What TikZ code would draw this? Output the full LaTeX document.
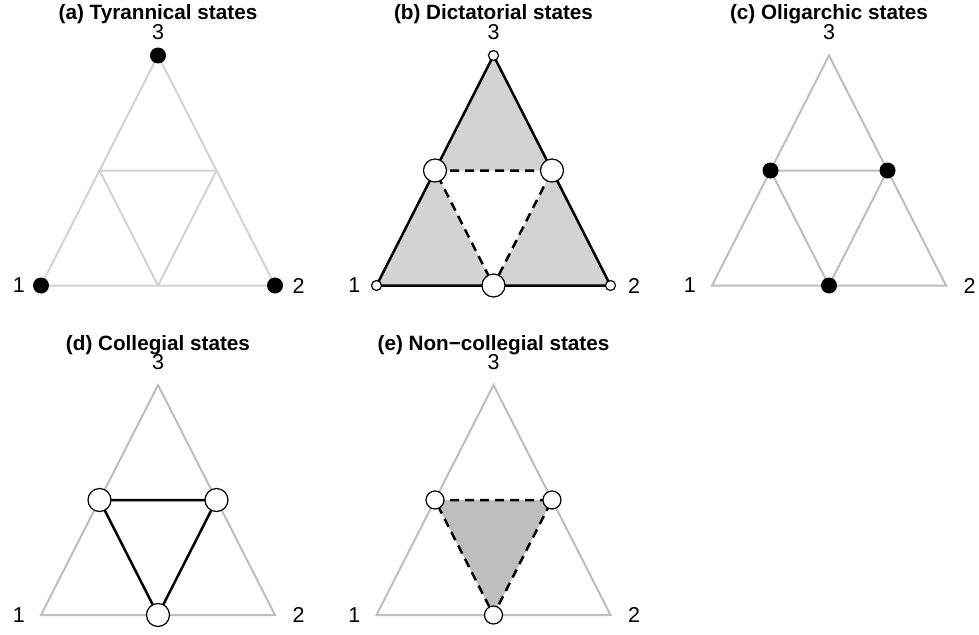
\documentclass[tikz,border=0pt]{standalone}
\usepackage{fontspec}
\setmainfont{Liberation Sans}
\usetikzlibrary{positioning}

\definecolor{palegray}{HTML}{D3D3D3}
\definecolor{midgray}{HTML}{BEBEBE}

\begin{document}
\begin{tikzpicture}[
    x=1pt, y=-1pt,
    title/.style={font=\fontsize{20.7}{25}\selectfont\bfseries, inner sep=0pt},
    lab/.style={font=\fontsize{21.5}{25}\selectfont, inner sep=0pt},
    pale/.style={draw=palegray, line width=2pt},
    grey/.style={draw=midgray, line width=2pt},
    full/.style={draw=black, line width=2.5pt},
    dashes/.style={draw=black, line width=2.5pt, dash pattern=on 9pt off 6pt},
    dot/.style={circle, fill=black, inner sep=0pt, minimum size=16pt},
    ring/.style={circle, draw=black, fill=white, line width=1.2pt, inner sep=0pt, minimum size=#1}
]
\useasboundingbox (0,0) rectangle (979,634);

% corners, midpoints and corner labels of the five simplices
\foreach \p/\cx/\by in {a/158/285.5, b/493.5/285.5, c/829/285.5, d/158/615, e/493.5/615} {
    \coordinate (\p1) at (\cx-117,\by);
    \coordinate (\p2) at (\cx+117,\by);
    \coordinate (\p3) at (\cx,\by-230);
    \coordinate (\p12) at (\cx,\by);
    \coordinate (\p13) at (\cx-58.5,\by-115);
    \coordinate (\p23) at (\cx+58.5,\by-115);
    \node[lab, left=16pt of \p1] (\p l1) {1};
    \node[lab, right=17.5pt of \p2] (\p l2) {2};
    \node[lab, above=15.5pt of \p3] (\p l3) {3};
}

\node[title] (ta) at (158,14) {(a) Tyrannical states};
\node[title] (tb) at (493.5,14) {(b) Dictatorial states};
\node[title] (tc) at (829,14) {(c) Oligarchic states};
\node[title] (td) at (158,345) {(d) Collegial states};
\node[title] (te) at (493.5,345) {(e) Non−collegial states};

% (a)
\draw[pale] (a1) -- (a2) -- (a3) -- cycle;
\draw[pale] (a13) -- (a23) -- (a12) -- cycle;
\node[dot] (da1) at (a1) {};
\node[dot] (da2) at (a2) {};
\node[dot] (da3) at (a3) {};

% (b)
\fill[palegray] (b1) -- (b12) -- (b13) -- cycle;
\fill[palegray] (b2) -- (b12) -- (b23) -- cycle;
\fill[palegray] (b3) -- (b13) -- (b23) -- cycle;
\draw[full] (b1) -- (b2) -- (b3) -- cycle;
\draw[dashes] (b13) -- (b23) -- (b12) -- cycle;
\node[ring=10pt] (rb1) at (b1) {};
\node[ring=10pt] (rb2) at (b2) {};
\node[ring=10pt] (rb3) at (b3) {};
\node[ring=23pt] (rb12) at (b12) {};
\node[ring=23pt] (rb13) at (b13) {};
\node[ring=23pt] (rb23) at (b23) {};

% (c)
\draw[grey] (c1) -- (c2) -- (c3) -- cycle;
\draw[grey] (c13) -- (c23) -- (c12) -- cycle;
\node[dot] (dc12) at (c12) {};
\node[dot] (dc13) at (c13) {};
\node[dot] (dc23) at (c23) {};

% (d)
\draw[grey] (d1) -- (d2) -- (d3) -- cycle;
\draw[full] (d13) -- (d23) -- (d12) -- cycle;
\node[ring=23pt] (rd12) at (d12) {};
\node[ring=23pt] (rd13) at (d13) {};
\node[ring=23pt] (rd23) at (d23) {};

% (e)
\draw[grey] (e1) -- (e2) -- (e3) -- cycle;
\fill[midgray] (e13) -- (e23) -- (e12) -- cycle;
\draw[dashes] (e13) -- (e23) -- (e12) -- cycle;
\node[ring=18pt] (re12) at (e12) {};
\node[ring=18pt] (re13) at (e13) {};
\node[ring=18pt] (re23) at (e23) {};
\end{tikzpicture}
\end{document}
